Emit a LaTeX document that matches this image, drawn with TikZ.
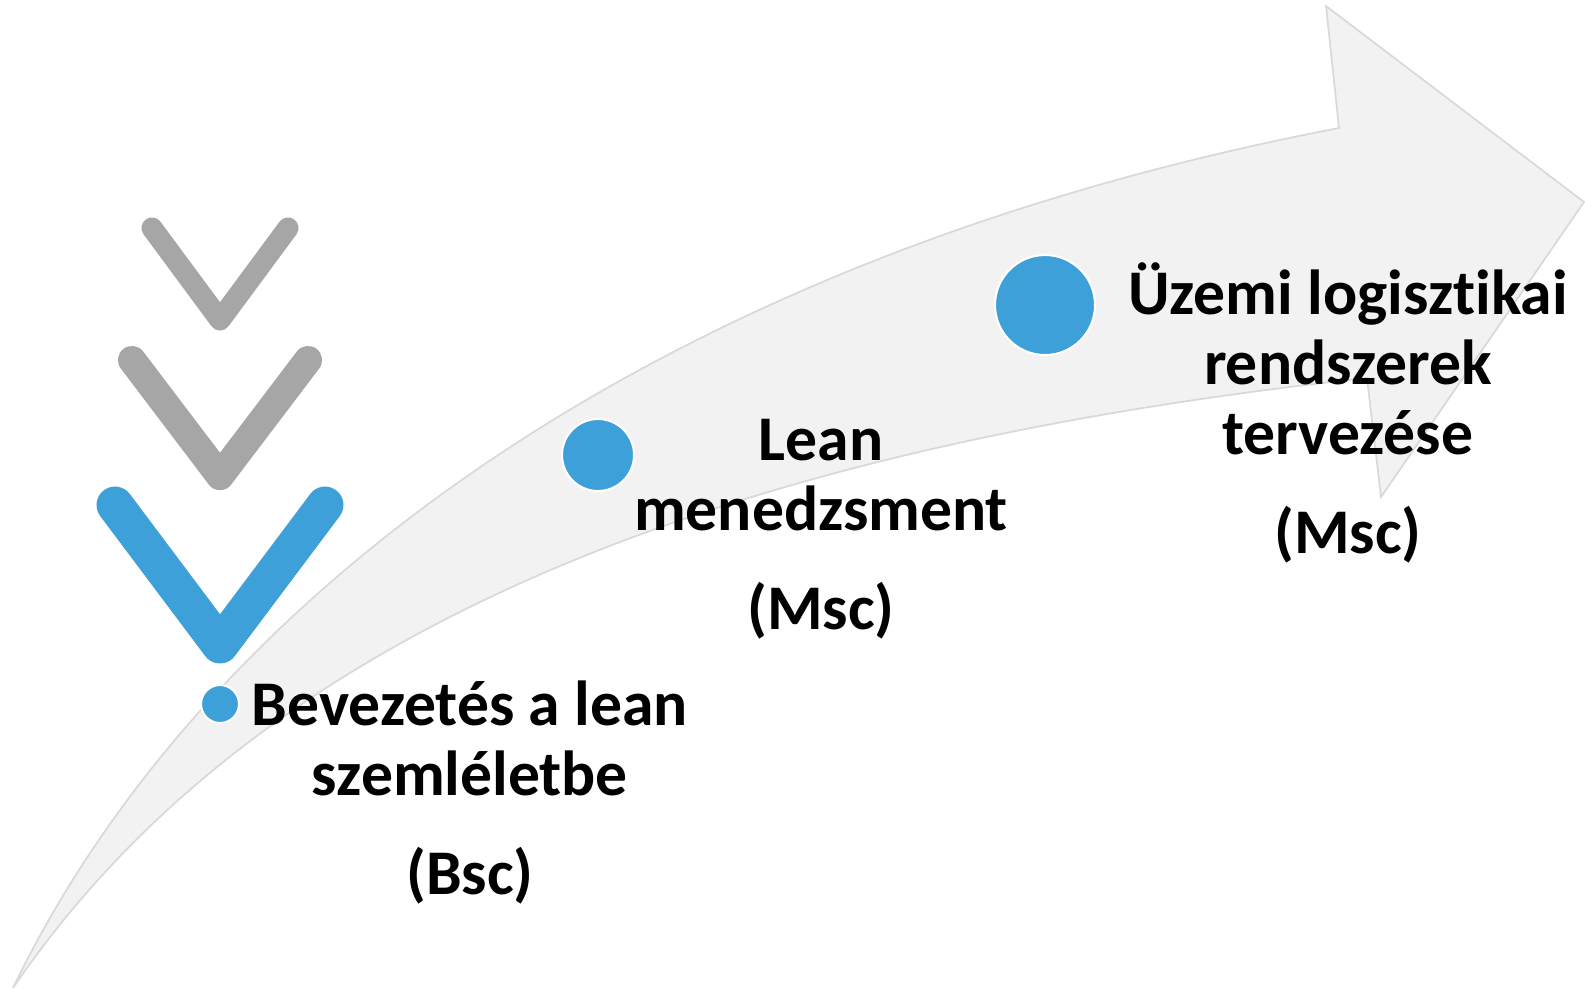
\documentclass[tikz,border=0pt]{standalone}
\usepackage{fontspec}
\setmainfont{Carlito}[Ligatures=NoCommon]
\definecolor{dotblue}{RGB}{61,160,216}
\definecolor{chevgray}{RGB}{166,166,166}
\definecolor{arrowfill}{RGB}{242,242,242}
\definecolor{arrowline}{RGB}{217,217,217}
\begin{document}
\begin{tikzpicture}[x=0.01cm,y=-0.01cm,
    dot/.style={circle,fill=dotblue,draw=white,line width=0.6pt,inner sep=0pt},
    stagetext/.style={align=center,inner sep=0pt,font=\fontsize{18.1pt}{19.9pt}\selectfont\bfseries},
    chev/.style={line cap=round,line join=round}]
  \useasboundingbox (0,0) rectangle (1585,990);
  % the big curved arrow
  \draw[draw=arrowline,fill=arrowfill,line width=0.5pt]
    (13,988) .. controls (200,600) and (650,260) .. (1339,128)
    -- (1326,6) -- (1584,202) -- (1381,497) -- (1367,378)
    .. controls (700,450) and (250,640) .. (13,988) -- cycle;
  % chevrons
  \draw[chev,draw=chevgray,line width=6pt] (152,228) -- (220,320) -- (288,228);
  \draw[chev,draw=chevgray,line width=8pt] (132,360) -- (220,476) -- (308,360);
  \draw[chev,draw=dotblue,line width=10.5pt] (115,505) -- (220,645) -- (325,505);
  % stages
  \node[dot,minimum size=0.38cm] (dotA) at (220,704) {};
  \node[dot,minimum size=0.72cm] (dotB) at (598,455) {};
  \node[dot,minimum size=1.0cm] (dotC) at (1045,305) {};
  \node[stagetext,anchor=base] (txtA) at (470,894) {Bevezetés a lean\\szemléletbe\\[8pt](Bsc)};
  \node[stagetext,anchor=base] (txtB) at (821,629) {Lean\\menedzsment\\[8pt](Msc)};
  \node[stagetext,anchor=base] (txtC) at (1348,553) {Üzemi logisztikai\\rendszerek\\tervezése\\[8pt](Msc)};
\end{tikzpicture}
\end{document}
